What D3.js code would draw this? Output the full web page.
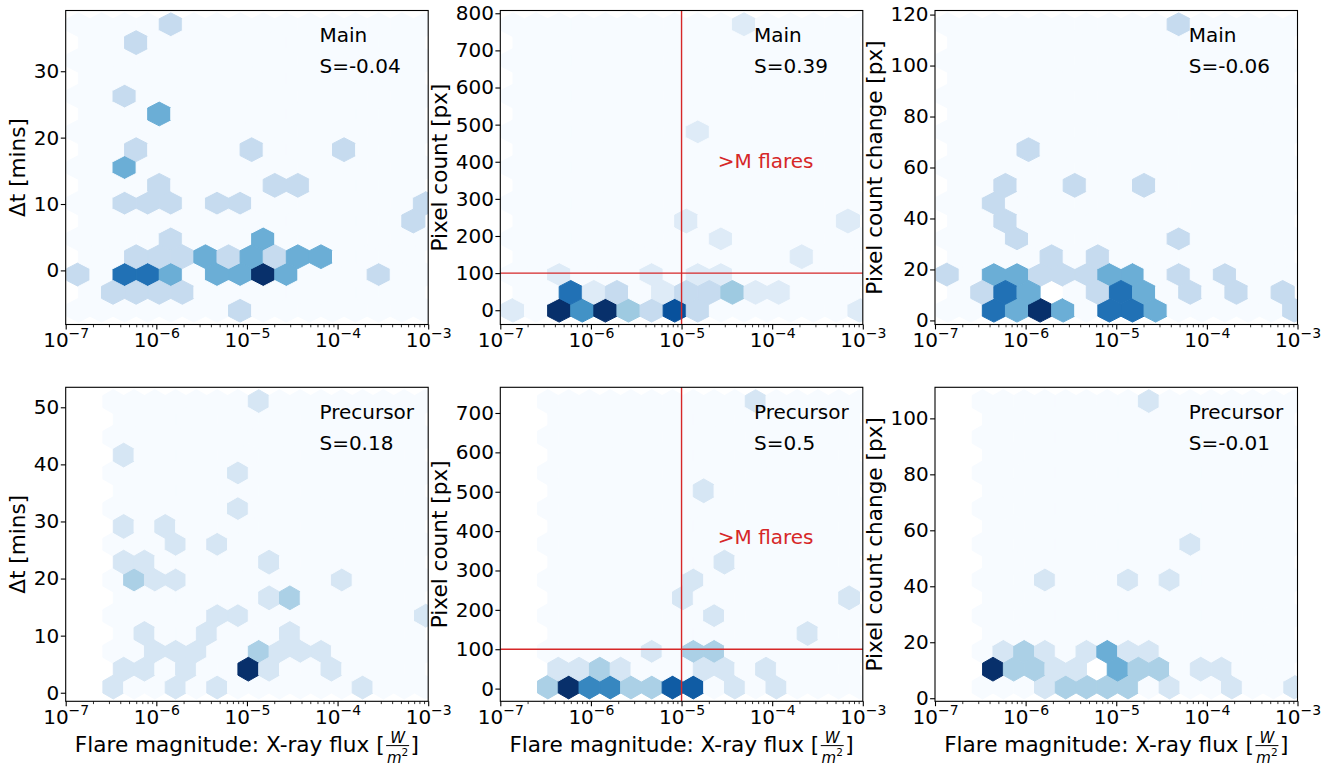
<!DOCTYPE html>
<html>
<head>
<meta charset="utf-8">
<title>Flare hexbins</title>
<script src="https://cdn.jsdelivr.net/npm/d3@7"></script>
<style>
  body { margin: 0; background: #fff; }
  svg text { font-family: "DejaVu Sans", sans-serif; }
</style>
</head>
<body>
<svg id="fig" width="1336" height="767"></svg>
<script>
// ---------------- data (one entry per filled hexagon) ----------------
// count null = hexagon left blank in the picture

// Main flares: delta t
var mainDtFlux = [1.44e-6, 5.98e-7, 4.46e-7, 1.075e-6, 5.98e-7, 1.13e-5, 1.18e-4, 4.46e-7,
  1.075e-6, 2.03e-5, 3.64e-5, 4.46e-7, 8.02e-7, 1.44e-6, 4.67e-6, 8.39e-6, 9.2e-4, 6.86e-4,
  1.44e-6, 1.51e-5, 5.98e-7, 1.075e-6, 1.93e-6, 3.48e-6, 6.26e-6, 1.13e-5, 2.03e-5, 3.64e-5, 6.55e-5,
  1.38e-7, 4.46e-7, 8.02e-7, 1.44e-6, 4.67e-6, 8.39e-6, 1.51e-5, 2.72e-5, 2.84e-4,
  3.32e-7, 5.98e-7, 1.075e-6, 1.93e-6, 8.39e-6];
var mainDtVal = [37, 34.31, 26.25, 23.56, 18.19, 18.19, 18.19, 15.5,
  12.81, 12.81, 12.81, 10.13, 10.13, 10.13, 10.13, 10.13, 10.13, 7.44,
  4.75, 4.75, 2.06, 2.06, 2.06, 2.06, 2.06, 2.06, 2.06, 2.06, 2.06,
  -0.63, -0.63, -0.63, -0.63, -0.63, -0.63, -0.63, -0.63, -0.63,
  -3.31, -3.31, -3.31, -3.31, -6];
var mainDtN = [1, 1, 1, 2, 1, 1, 1, 2,
  1, 1, 1, 1, 1, 1, 1, 1, 1, 1,
  1, 2, 1, 1, 1, 2, 1, 2, 1, 2, 2,
  1, 3, 3, 2, 2, 2, 4, 2, 1,
  1, 1, 1, 1, 1];

// Main flares: pixel count
var mainPxFlux = [4.89e-5, 1.51e-5, 1.13e-5, 6.86e-4, 2.72e-5, 2.12e-4,
  4.46e-7, 4.67e-6, 1.51e-5, 2.72e-5,
  5.98e-7, 1.075e-6, 1.93e-6, 6.26e-6, 1.13e-5, 2.03e-5, 3.64e-5, 6.55e-5, 1.18e-4,
  1.38e-7, 4.46e-7, 8.02e-7, 1.44e-6, 2.59e-6, 4.67e-6, 8.39e-6, 1.51e-5, 9.2e-4];
var mainPxVal = [769, 480.6, 240.3, 240.3, 192.3, 144.2,
  96.1, 96.1, 96.1, 96.1,
  48.1, 48.1, 48.1, 48.1, 48.1, 48.1, 48.1, 48.1, 48.1,
  0, 0, 0, 0, 0, 0, 0, 0, 0];
var mainPxN = [1, 1, 1, 1, 1, 1,
  1, 1, 1, 1,
  6, 1, 2, 1, 2, 2, 3, 1, 1,
  1, 8, 5, 8, 3, 2, 7, 2, 1];

// Main flares: pixel count change
var mainDpxFlux = [4.89e-5, 1.075e-6, 5.98e-7, 3.48e-6, 2.03e-5, 4.46e-7, 5.98e-7, 8.02e-7, 4.89e-5,
  1.93e-6, 6.26e-6,
  1.38e-7, 4.46e-7, 8.02e-7, 1.44e-6, 2.59e-6, 4.67e-6, 8.39e-6, 1.51e-5, 4.89e-5, 1.58e-4,
  3.32e-7, 5.98e-7, 1.075e-6, 1.93e-6, 6.26e-6, 1.13e-5, 2.03e-5, 6.55e-5, 2.12e-4, 6.86e-4,
  4.46e-7, 8.02e-7, 1.44e-6, 2.59e-6, 8.39e-6, 1.51e-5, 2.72e-5, 9.2e-4];
var mainDpxVal = [116, 67, 53, 53, 53, 46, 39, 32, 32,
  25, 25,
  18, 18, 18, 18, 18, 18, 18, 18, 18, 18,
  11, 11, 11, 11, 11, 11, 11, 11, 11, 11,
  4, 4, 4, 4, 4, 4, 4, 4];
var mainDpxN = [1, 1, 1, 1, 1, 1, 1, 1, 1,
  1, 1,
  1, 2, 2, 1, 1, 1, 2, 2, 1, 1,
  1, 3, 2, null, 1, 3, 2, 1, 1, 1,
  3, 2, 4, 2, 3, 3, 2, 1];

// Precursor flares: delta t
var preDtFlux = [1.35e-5, 4.36e-7, 7.96e-6, 7.96e-6, 4.36e-7, 1.25e-6, 1.63e-6, 4.69e-6,
  4.36e-7, 7.40e-7, 1.76e-5, 5.68e-7, 9.63e-7, 1.63e-6, 1.12e-4, 1.76e-5, 2.98e-5,
  4.69e-6, 7.96e-6, 9.2e-4, 7.40e-7, 3.60e-6, 2.98e-5,
  9.63e-7, 1.63e-6, 2.77e-6, 1.35e-5, 2.29e-5, 3.88e-5, 6.58e-5,
  4.36e-7, 7.40e-7, 2.13e-6, 1.04e-5, 1.76e-5, 8.56e-5,
  3.35e-7, 1.63e-6, 4.69e-6, 1.89e-4];
var preDtVal = [51, 41.63, 38.5, 32.25, 29.13, 29.13, 26, 26,
  22.88, 22.88, 22.88, 19.75, 19.75, 19.75, 19.75, 16.63, 16.63,
  13.5, 13.5, 13.5, 10.38, 10.38, 10.38,
  7.25, 7.25, 7.25, 7.25, 7.25, 7.25, 7.25,
  4.13, 4.13, 4.13, 4.13, 4.13, 4.13,
  1, 1, 1, 1];
var preDtN = [1, 1, 1, 1, 1, 1, 1, 1,
  1, 1, 1, 2, 1, 1, 1, 1, 2,
  1, 1, 1, 1, 1, 1,
  1, 1, 1, 2, 1, 1, 1,
  1, 1, 1, 6, 1, 1,
  1, 1, 1, 1];

// Precursor flares: pixel count
var prePxFlux = [6.58e-5, 1.76e-5, 2.98e-5, 1.35e-5, 1.04e-5, 9.2e-4, 2.29e-5, 2.46e-4,
  4.69e-6, 1.35e-5, 2.29e-5,
  4.36e-7, 7.40e-7, 1.25e-6, 2.13e-6, 1.76e-5, 2.98e-5, 8.56e-5,
  3.35e-7, 5.68e-7, 9.63e-7, 1.63e-6, 2.77e-6, 4.69e-6, 7.96e-6, 1.35e-5, 3.88e-5, 1.12e-4];
var prePxVal = [729, 502.4, 321.2, 275.9, 230.6, 230.6, 185.3, 139.9,
  94.6, 94.6, 94.6,
  49.3, 49.3, 49.3, 49.3, 49.3, 49.3, 49.3,
  4, 4, 4, 4, 4, 4, 4, 4, 4, 4];
var prePxN = [1, 1, 1, 1, 1, 1, 1, 1,
  1, 2, 2,
  1, 1, 2, 1, 1, 1, 1,
  2, 6, 4, 4, 2, 2, 5, 5, 1, 1];

// Precursor flares: pixel count change
var preDpxFlux = [2.29e-5, 6.58e-5, 1.63e-6, 1.35e-5, 3.88e-5,
  5.68e-7, 9.63e-7, 1.63e-6, 4.69e-6, 7.96e-6, 1.35e-5, 2.29e-5,
  3.35e-7, 4.36e-7, 7.40e-7, 1.25e-6, 2.13e-6, 3.60e-6, 6.11e-6, 1.04e-5, 1.76e-5, 2.98e-5, 8.56e-5, 1.45e-4,
  1.63e-6, 2.77e-6, 4.69e-6, 7.96e-6, 1.35e-5, 3.88e-5, 1.89e-4, 9.2e-4];
var preDpxVal = [106, 55, 42.25, 42.25, 42.25,
  16.75, 16.75, 16.75, 16.75, 16.75, 16.75, 16.75,
  10.38, 10.38, 10.38, 10.38, 10.38, 10.38, 10.38, 10.38, 10.38, 10.38, 10.38, 10.38,
  4, 4, 4, 4, 4, 4, 4, 4];
var preDpxN = [1, 1, 1, 1, 1,
  1, 2, 1, 1, 3, 1, 1,
  1, 5, 2, 2, 1, 1, null, 3, 2, 2, 1, 1,
  1, 2, 2, 2, 2, 1, 1, 1];

// tick labels
var xMajor = [1e-7, 1e-6, 1e-5, 1e-4, 1e-3];
var dtMainTicks = [0, 10, 20, 30];
var pxMainTicks = [0, 100, 200, 300, 400, 500, 600, 700, 800];
var dpxMainTicks = [0, 20, 40, 60, 80, 100, 120];
var dtPreTicks = [0, 10, 20, 30, 40, 50];
var pxPreTicks = [0, 100, 200, 300, 400, 500, 600, 700];
var dpxPreTicks = [0, 20, 40, 60, 80, 100];

var rowNames = ["Main", "Precursor"];
var spearman = [["S=-0.04", "S=0.39", "S=-0.06"], ["S=0.18", "S=0.5", "S=-0.01"]];
var yLabels = ["Δt [mins]", "Pixel count [px]", "Pixel count change [px]"];

// ---------------- layout ----------------
var svg = d3.select("#fig");
var colLeft = [65.7, 500.3, 935];
var rowTop = [10.5, 387.3];
var axW = 362.5, axH = 314;
var GRIDSIZE = 15;
var tickFont = 20, labelFont = 21.6;
var red = "#d62728";

// matplotlib "Blues"
var bluesStops = ["#f7fbff", "#deebf7", "#c6dbef", "#9ecae1", "#6baed6", "#4292c6", "#2171b5", "#08519c", "#08306b"];
var blues = d3.scaleLinear()
  .domain(bluesStops.map((c, i) => i / 8))
  .range(bluesStops)
  .interpolate(d3.interpolateRgb)
  .clamp(true);

var panels = [
  { col: 0, row: 0, flux: mainDtFlux, val: mainDtVal, n: mainDtN, ticks: dtMainTicks, mLine: false },
  { col: 1, row: 0, flux: mainPxFlux, val: mainPxVal, n: mainPxN, ticks: pxMainTicks, mLine: true },
  { col: 2, row: 0, flux: mainDpxFlux, val: mainDpxVal, n: mainDpxN, ticks: dpxMainTicks, mLine: false },
  { col: 0, row: 1, flux: preDtFlux, val: preDtVal, n: preDtN, ticks: dtPreTicks, mLine: false },
  { col: 1, row: 1, flux: prePxFlux, val: prePxVal, n: prePxN, ticks: pxPreTicks, mLine: true },
  { col: 2, row: 1, flux: preDpxFlux, val: preDpxVal, n: preDpxN, ticks: dpxPreTicks, mLine: false }
];

// hexagonal binning the way matplotlib does it (log10 in x)
function hexbin(flux, val, cnt, nx) {
  var lx = flux.map(f => Math.log10(f));
  var xmin = d3.min(lx), xmax = d3.max(lx);
  var ymin = d3.min(val), ymax = d3.max(val);
  var pad = 1e-9 * (xmax - xmin);
  xmin -= pad;
  xmax += pad;
  var ny = Math.floor(nx / Math.sqrt(3));
  var sx = (xmax - xmin) / nx, sy = (ymax - ymin) / ny;
  var cells = [], grid1 = [], grid2 = [];
  var i, j, c;
  for (i = 0; i <= nx; i++) {
    for (j = 0; j <= ny; j++) {
      c = { x: xmin + i * sx, y: ymin + j * sy, n: 0 };
      grid1[i * (ny + 1) + j] = c;
      cells.push(c);
    }
  }
  for (i = 0; i < nx; i++) {
    for (j = 0; j < ny; j++) {
      c = { x: xmin + (i + 0.5) * sx, y: ymin + (j + 0.5) * sy, n: 0 };
      grid2[i * ny + j] = c;
      cells.push(c);
    }
  }
  lx.forEach(function (v, k) {
    var ix = (v - xmin) / sx, iy = (val[k] - ymin) / sy;
    var ix1 = Math.round(ix), iy1 = Math.round(iy);
    var ix2 = Math.floor(ix), iy2 = Math.floor(iy);
    var d1 = (ix - ix1) ** 2 + 3 * (iy - iy1) ** 2;
    var d2 = (ix - ix2 - 0.5) ** 2 + 3 * (iy - iy2 - 0.5) ** 2;
    var cell = null;
    if (d1 < d2) cell = grid1[ix1 * (ny + 1) + iy1];
    else if (ix2 >= 0 && ix2 < nx && iy2 >= 0 && iy2 < ny) cell = grid2[ix2 * ny + iy2];
    if (!cell) return;
    cell.n = (cnt[k] == null || isNaN(cell.n)) ? NaN : cell.n + cnt[k];
  });
  return { cells: cells, xmin: xmin, xmax: xmax, ymin: ymin, ymax: ymax, sx: sx, sy: sy };
}

function supLabel(sel) {
  sel.each(function (d) {
    var t = d3.select(this).text("");
    var e = Math.round(Math.log10(d));
    t.append("tspan").text("10");
    t.append("tspan").attr("font-size", 14).attr("dy", -9).text("\u2212" + Math.abs(e));
  });
}

function drawPanel(p, idx) {
  var left = colLeft[p.col], top = rowTop[p.row];
  var bin = hexbin(p.flux, p.val, p.n, GRIDSIZE);
  var yPad = 0.05 * (bin.ymax - bin.ymin);

  var x = d3.scaleLog().domain([1e-7, 1e-3]).range([left, left + axW]);
  var y = d3.scaleLinear().domain([bin.ymin - yPad, bin.ymax + yPad]).range([top + axH, top]);

  var g = svg.append("g");
  var clipId = "clip" + idx;
  g.append("clipPath").attr("id", clipId)
    .append("rect")
    .attr("x", left).attr("y", top).attr("width", axW).attr("height", axH);

  // hexagons
  var hw = x(Math.pow(10, bin.xmin + bin.sx)) - x(Math.pow(10, bin.xmin));
  var hh = y(bin.ymin) - y(bin.ymin + bin.sy);
  var hex = [[hw / 2, -hh / 6], [hw / 2, hh / 6], [0, hh / 3], [-hw / 2, hh / 6], [-hw / 2, -hh / 6], [0, -hh / 3]];
  var vmax = d3.max(bin.cells, c => isNaN(c.n) ? 0 : c.n);

  g.append("g")
    .attr("clip-path", "url(#" + clipId + ")")
    .selectAll("path")
    .data(bin.cells.filter(c => !isNaN(c.n)))
    .enter()
    .append("path")
    .attr("transform", c => "translate(" + x(Math.pow(10, c.x)) + "," + y(c.y) + ")")
    .attr("d", "M" + hex.join("L") + "Z")
    .attr("fill", c => blues(c.n / vmax))
    .attr("stroke", c => blues(c.n / vmax))
    .attr("stroke-width", 1);

  // >M flare limits
  if (p.mLine) {
    g.append("line")
      .attr("x1", x(1e-5)).attr("x2", x(1e-5))
      .attr("y1", top).attr("y2", top + axH)
      .attr("stroke", red).attr("stroke-width", 1.4);
    g.append("line")
      .attr("x1", left).attr("x2", left + axW)
      .attr("y1", y(100)).attr("y2", y(100))
      .attr("stroke", red).attr("stroke-width", 1.4);
    g.append("text")
      .attr("x", left + 0.6 * axW)
      .attr("y", top + 0.5 * axH)
      .attr("font-size", tickFont)
      .attr("fill", red)
      .text(">M flares");
  }

  // axes frame
  g.append("rect")
    .attr("x", left).attr("y", top).attr("width", axW).attr("height", axH)
    .attr("fill", "none").attr("stroke", "#000").attr("stroke-width", 1.1);

  // x axis: major + minor ticks
  var minor = x.ticks().filter(t => xMajor.indexOf(t) < 0);
  g.append("g")
    .attr("transform", "translate(0," + (top + axH) + ")")
    .call(d3.axisBottom(x).tickValues(minor).tickSize(2.8).tickSizeOuter(0).tickFormat(""))
    .call(s => s.select(".domain").remove())
    .call(s => s.selectAll("line").attr("stroke-width", 0.8));

  var xAx = g.append("g")
    .attr("transform", "translate(0," + (top + axH) + ")")
    .call(d3.axisBottom(x).tickValues(xMajor).tickSize(4.9).tickSizeOuter(0).tickPadding(3.4))
    .call(s => s.select(".domain").remove())
    .call(s => s.selectAll("line").attr("stroke-width", 1.1));
  xAx.attr("font-size", tickFont).attr("font-family", null);
  xAx.selectAll(".tick text").call(supLabel);

  // y axis
  var yAx = g.append("g")
    .attr("transform", "translate(" + left + ",0)")
    .call(d3.axisLeft(y).tickValues(p.ticks).tickSize(4.9).tickSizeOuter(0).tickPadding(1.5).tickFormat(d3.format("d")))
    .call(s => s.select(".domain").remove())
    .call(s => s.selectAll("line").attr("stroke-width", 1.1));
  yAx.attr("font-size", tickFont).attr("font-family", null);

  // bbox is in the axis group's own frame, so shift by left
  var bb = yAx.node().getBBox();
  g.append("text")
    .attr("transform", "translate(" + (left + bb.x - 8.5) + "," + (top + axH / 2) + ") rotate(-90)")
    .attr("text-anchor", "middle")
    .attr("font-size", labelFont)
    .text(yLabels[p.col]);

  // panel notes
  g.append("text")
    .attr("x", left + 0.7 * axW).attr("y", top + 0.1 * axH)
    .attr("font-size", tickFont)
    .text(rowNames[p.row]);
  g.append("text")
    .attr("x", left + 0.7 * axW).attr("y", top + 0.2 * axH)
    .attr("font-size", tickFont)
    .text(spearman[p.row][p.col]);

  if (p.row === 1) xLabel(g, left + axW / 2, top + axH + 51);
}

// x label with the W / m^2 fraction
function xLabel(g, cx, by) {
  var t1 = g.append("text").attr("y", by).attr("font-size", labelFont).text("Flare magnitude: X-ray flux [");
  var t2 = g.append("text").attr("y", by).attr("font-size", labelFont).text("]");
  var w1 = t1.node().getComputedTextLength();
  var w2 = t2.node().getComputedTextLength();
  var fw = 26;
  var x0 = cx - (w1 + fw + w2) / 2;
  var fx = x0 + w1 + fw / 2;
  t1.attr("x", x0);
  t2.attr("x", x0 + w1 + fw);
  g.append("text")
    .attr("x", fx).attr("y", by - 9.5)
    .attr("text-anchor", "middle")
    .attr("font-size", 15).attr("font-style", "italic")
    .text("W");
  g.append("line")
    .attr("x1", fx - fw / 2 + 1.5).attr("x2", fx + fw / 2 - 1.5)
    .attr("y1", by - 6.7).attr("y2", by - 6.7)
    .attr("stroke", "#000").attr("stroke-width", 1);
  var den = g.append("text")
    .attr("x", fx).attr("y", by + 10.5)
    .attr("text-anchor", "middle")
    .attr("font-size", 15).attr("font-style", "italic");
  den.append("tspan").text("m");
  den.append("tspan").attr("font-size", 10.5).attr("font-style", "normal").attr("dy", -6.5).text("2");
}

panels.forEach(drawPanel);
</script>
</body>
</html>
